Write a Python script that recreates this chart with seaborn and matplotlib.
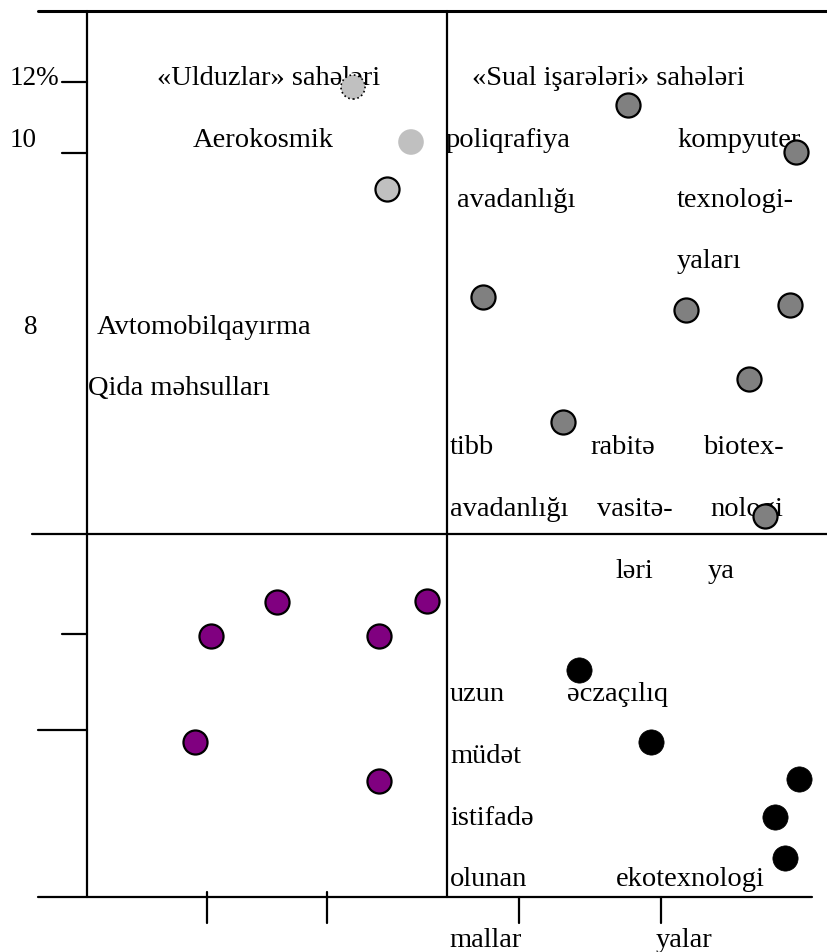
import matplotlib
matplotlib.use("Agg")
import matplotlib.pyplot as plt
import seaborn as sns

# positions of the branches on the (schematic) matrix, y grows downwards
stars_x = [353, 411, 387]
stars_y = [88, 143, 190]
question_x = [628, 796, 483, 686, 790, 749, 563, 765]
question_y = [106, 153, 298, 311, 306, 380, 423, 517]
cows_x = [277, 427, 211, 379, 195, 379]
cows_y = [603, 602, 637, 637, 743, 782]
dogs_x = [579, 651, 799, 775, 785]
dogs_y = [671, 743, 780, 818, 859]

y_tick_labels = ["12%", "10", "8"]

labels = [
    ("«Ulduzlar» sahələri", 157, 85),
    ("Aerokosmik", 193, 147),
    ("Avtomobilqayırma", 97, 334),
    ("Qida məhsulları", 88, 395),
    ("«Sual işarələri» sahələri", 472, 85),
    ("poliqrafiya", 446, 147),
    ("kompyuter", 677, 147),
    ("avadanlığı", 457, 207),
    ("texnologi-", 677, 207),
    ("yaları", 677, 268),
    ("tibb", 450, 454),
    ("rabitə", 590, 454),
    ("biotex-", 703, 454),
    ("avadanlığı", 450, 516),
    ("vasitə-", 597, 516),
    ("nologi", 710, 516),
    ("ləri", 615, 578),
    ("ya", 708, 578),
    ("uzun", 450, 701),
    ("əczaçılıq", 567, 701),
    ("müdət", 450, 763),
    ("istifadə", 450, 825),
    ("olunan", 450, 886),
    ("ekotexnologi", 616, 886),
    ("mallar", 449, 947),
    ("yalar", 656, 947),
]

sns.set_style("white")
plt.rcParams["font.family"] = ["Liberation Serif", "DejaVu Serif"]

fig = plt.figure(figsize=(8.28, 9.53), dpi=100)
ax = fig.add_axes([0, 0, 1, 1])

# frame of the matrix
lw = 1.6
ax.plot([38, 828], [12, 12], color="black", lw=2.2)
ax.plot([32, 828], [535, 535], color="black", lw=lw)
ax.plot([38, 812], [898, 898], color="black", lw=lw)
ax.plot([87, 87], [12, 898], color="black", lw=lw)
ax.plot([447, 447], [12, 898], color="black", lw=lw)

# y ticks
for y0, x0 in [(83, 62), (154, 62), (635, 62), (731, 38)]:
    ax.plot([x0, 87], [y0, y0], color="black", lw=lw)
# x ticks
for x0, y0 in [(207, 893), (327, 893), (519, 898), (661, 898)]:
    ax.plot([x0, x0], [y0, 924], color="black", lw=lw)

fs = 20.5
for t, (x0, y0) in zip(y_tick_labels, [(10, 85), (10, 147), (24, 334)]):
    ax.text(x0, y0, t, fontsize=19.5, va="baseline", ha="left", color="black")

for t, x0, y0 in labels:
    ax.text(x0, y0, t, fontsize=fs, va="baseline", ha="left", color="black")

# points
s = 300
sns.scatterplot(x=[stars_x[0]], y=[stars_y[0]], ax=ax, s=s, color="#c0c0c0",
                edgecolor="black", linewidth=1.2, linestyle=":", zorder=3)
sns.scatterplot(x=[stars_x[1]], y=[stars_y[1]], ax=ax, s=s + 40, color="#c0c0c0",
                edgecolor="none", linewidth=0, zorder=3)
sns.scatterplot(x=[stars_x[2]], y=[stars_y[2]], ax=ax, s=s, color="#c0c0c0",
                edgecolor="black", linewidth=1.6, zorder=3)

sns.scatterplot(x=question_x, y=question_y, ax=ax, s=s, color="#808080",
                edgecolor="black", linewidth=1.6, zorder=3)
sns.scatterplot(x=cows_x, y=cows_y, ax=ax, s=s, color="#800080",
                edgecolor="black", linewidth=1.6, zorder=3)
sns.scatterplot(x=dogs_x, y=dogs_y, ax=ax, s=s + 30, color="black",
                edgecolor="black", linewidth=0.5, zorder=3)

ax.set_xlim(0, 828)
ax.set_ylim(953, 0)
ax.axis("off")
fig.savefig("out.png", dpi=100)
